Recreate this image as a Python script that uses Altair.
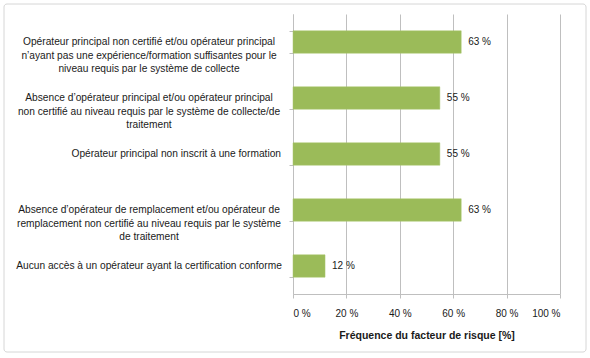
import altair as alt
import pandas as pd

categories = [
    "Opérateur principal non certifié et/ou opérateur principal|n’ayant pas une expérience/formation suffisantes pour le|niveau requis par le système de collecte",
    "Absence d’opérateur principal et/ou opérateur principal|non certifié au niveau requis par le système de collecte/de|traitement",
    "Opérateur principal non inscrit à une formation",
    "Absence d’opérateur de remplacement et/ou opérateur de|remplacement non certifié au niveau requis par le système|de traitement",
    "Aucun accès à un opérateur ayant la certification conforme",
]
values = [63, 55, 55, 63, 12]
x_ticks = [0, 20, 40, 60, 80, 100]
x_title = "Fréquence du facteur de risque [%]"

df = pd.DataFrame({"cat": categories, "val": values})
df["lab"] = df["val"].astype(str) + " %"

FONT = "Liberation Sans"
GREY = "#bfbfbf"
TXT = "#1a1a1a"
TEST = "indexof(datum.cat, 'inscrit') >= 0"

y_enc = alt.Y(
    "cat:N",
    sort=None,
    scale=alt.Scale(paddingInner=0.6, paddingOuter=0.3),
    axis=alt.Axis(
        title=None,
        labels=False,
        tickBand="extent",
        tickSize=4,
        tickColor=GREY,
        domainColor=GREY,
        grid=False,
    ),
)

x_enc = alt.X(
    "val:Q",
    scale=alt.Scale(domain=[0, 100]),
    axis=alt.Axis(
        values=x_ticks,
        labelExpr="datum.value + ' %'",
        title=x_title,
        titleFont=FONT,
        titleFontSize=10.5,
        titleFontWeight="bold",
        titleColor=TXT,
        titlePadding=12,
        labelFont=FONT,
        labelFontSize=10,
        labelColor=TXT,
        labelPadding=10,
        tickSize=4,
        tickColor=GREY,
        domainColor=GREY,
        gridColor=GREY,
        gridWidth=1,
    ),
)

bars = alt.Chart(df).mark_bar(color="#9BBB59", stroke="#a9c66e", strokeWidth=0.5).encode(
    x=x_enc, y=y_enc
)

texts = alt.Chart(df).mark_text(
    align="left", baseline="middle", dx=7, font=FONT, fontSize=10, color=TXT
).encode(x="val:Q", y=alt.Y("cat:N", sort=None), text="lab:N")

ylab_center = alt.Chart(df).transform_filter("!(" + TEST + ")").mark_text(
    align="center", baseline="middle", lineBreak="|", lineHeight=13.5,
    font=FONT, fontSize=10.2, color=TXT
).encode(x=alt.value(-144), y=alt.Y("cat:N", sort=None), text="cat:N")

ylab_right = alt.Chart(df).transform_filter(TEST).mark_text(
    align="right", baseline="middle", font=FONT, fontSize=10.2, color=TXT
).encode(x=alt.value(-12), y=alt.Y("cat:N", sort=None), text="cat:N")

frame = alt.Chart(df).transform_aggregate(n="count()").mark_rect(
    fill="transparent", stroke="#d6d6d6", strokeWidth=1, cornerRadius=3
).encode(
    x=alt.value(-289), x2=alt.value(293), y=alt.value(-10), y2=alt.value(338)
)

chart = alt.layer(bars, texts, ylab_center, ylab_right, frame).properties(
    width=267,
    height=280,
    padding={"left": 293, "top": 14, "right": 30, "bottom": 64},
    autosize=alt.AutoSizeParams(type="none"),
    background="white",
).configure_view(stroke=None)

chart.save("out.html", embed_options={"renderer": "svg", "actions": False})
